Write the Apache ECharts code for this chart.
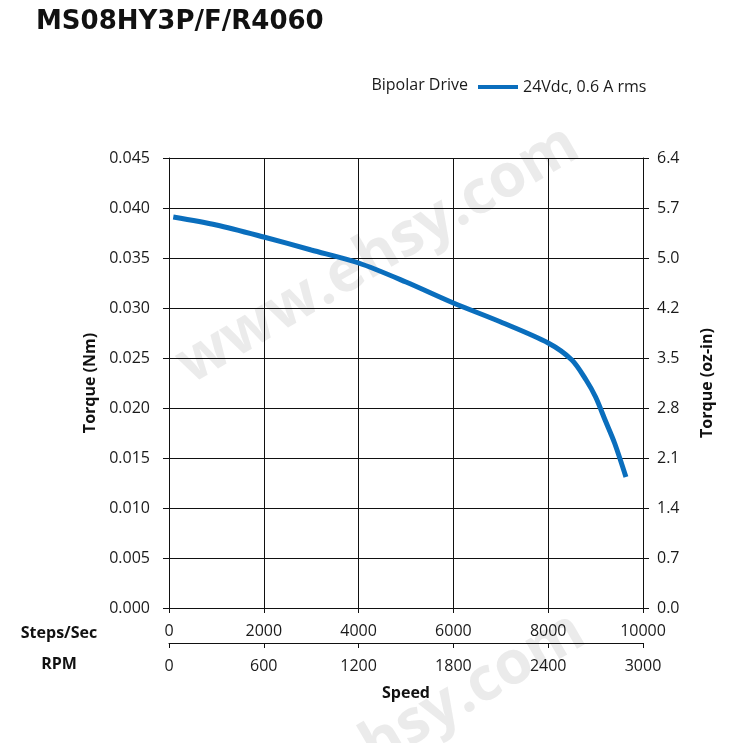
<!DOCTYPE html>
<html>
<head>
<meta charset="utf-8">
<script src="https://cdn.jsdelivr.net/npm/echarts@6/dist/echarts.min.js"></script>
<style>html,body{margin:0;padding:0;background:#fff;}#c{width:750px;height:743px;}</style>
</head>
<body>
<div id="c"></div>
<script>
// Data
const speedSteps = [90, 1000, 2000, 3000, 4000, 5000, 6000, 7000, 8000, 8500, 8800, 9000, 9200, 9400, 9640];
const torqueNm = [0.0391, 0.0383, 0.0371, 0.0358, 0.0345, 0.0326, 0.0305, 0.0286, 0.0265, 0.0248, 0.0228, 0.0211, 0.0188, 0.0165, 0.0131];
const rpmTicks = [0, 600, 1200, 1800, 2400, 3000];
const rightTickLabels = ['0.0','0.7','1.4','2.1','2.8','3.5','4.2','5.0','5.7','6.4'];
const seriesName = '24Vdc, 0.6 A rms';
const titleText = 'MS08HY3P/F/R4060';

const FONT = 'Open Sans';
const C = '#1a1a1a';
const chart = echarts.init(document.getElementById('c'));
const mkLine = () => ({show: true, lineStyle: {color: '#111', width: 1}});
const mkTick = (len) => ({show: true, length: len, lineStyle: {color: '#111', width: 1}});
const gridLine = () => ({show: true, lineStyle: {color: '#111', width: 1, type: 'solid'}});
const lbl = {color: C, fontFamily: FONT, fontSize: 16};
const plain = v => String(Math.round(v));

chart.setOption({
  backgroundColor: '#fff',
  animation: false,
  title: {text: titleText, left: 31, top: 4, textStyle: {fontFamily: 'DejaVu Sans', fontWeight: 'bold', fontSize: 26, color: '#111'}},
  legend: {
    data: [seriesName], left: 473, top: 74, icon: 'rect', itemWidth: 40, itemHeight: 4,
    textStyle: {fontFamily: FONT, fontSize: 16, color: C}
  },
  grid: [
    {left: 169, top: 158, width: 474, height: 450},
    {left: 169, top: 642, width: 474, height: 1}
  ],
  xAxis: [
    {type: 'value', gridIndex: 0, min: 0, max: 10000, interval: 2000,
     axisLine: mkLine(), axisTick: mkTick(5),
     splitLine: gridLine(), axisLabel: Object.assign({margin: 15, formatter: plain}, lbl)},
    {type: 'value', gridIndex: 1, min: 0, max: 3000, interval: 600,
     axisLine: mkLine(), axisTick: mkTick(5),
     splitLine: {show: false}, axisLabel: Object.assign({margin: 15, formatter: plain}, lbl),
     name: 'Speed', nameLocation: 'middle', nameGap: 42,
     nameTextStyle: {fontFamily: FONT, fontWeight: 'bold', fontSize: 16, color: '#111'}}
  ],
  yAxis: [
    {type: 'value', gridIndex: 0, min: 0, max: 0.045, interval: 0.005, position: 'left',
     axisLine: mkLine(), axisTick: mkTick(6),
     splitLine: gridLine(),
     axisLabel: Object.assign({margin: 19, formatter: v => v.toFixed(3)}, lbl),
     name: 'Torque (Nm)', nameLocation: 'middle', nameGap: 68, nameRotate: 90,
     nameTextStyle: {fontFamily: FONT, fontWeight: 'bold', fontSize: 16, color: '#111'}},
    {type: 'value', gridIndex: 0, min: 0, max: 0.045, interval: 0.005, position: 'right',
     axisLine: mkLine(), axisTick: mkTick(6),
     splitLine: {show: false},
     axisLabel: Object.assign({margin: 14, formatter: v => rightTickLabels[Math.round(v / 0.005)]}, lbl),
     name: 'Torque (oz-in)', nameLocation: 'middle', nameGap: 56, nameRotate: 90,
     nameTextStyle: {fontFamily: FONT, fontWeight: 'bold', fontSize: 16, color: '#111'}},
    {type: 'value', gridIndex: 1, min: 0, max: 1, show: false}
  ],
  graphic: [
    {type: 'text', x: 468, y: 85, style: {text: 'Bipolar Drive', font: '16px "Open Sans"', fill: C, align: 'right', verticalAlign: 'middle'}},
    {type: 'text', x: 59, y: 633, style: {text: 'Steps/Sec', font: 'bold 16px "Open Sans"', fill: '#111', align: 'center', verticalAlign: 'middle'}},
    {type: 'text', x: 59, y: 664, style: {text: 'RPM', font: 'bold 16px "Open Sans"', fill: '#111', align: 'center', verticalAlign: 'middle'}},
    {type: 'text', x: 378, y: 255, rotation: 0.53, silent: true,
     style: {text: 'www.ehsy.com', font: 'bold 60px "Open Sans"', fill: 'rgba(215,215,215,0.5)', align: 'center', verticalAlign: 'middle'}},
    {type: 'text', x: 384, y: 742, rotation: 0.53, silent: true,
     style: {text: 'www.ehsy.com', font: 'bold 60px "Open Sans"', fill: 'rgba(215,215,215,0.5)', align: 'center', verticalAlign: 'middle'}}
  ],
  series: [{
    name: seriesName, type: 'line', xAxisIndex: 0, yAxisIndex: 0,
    data: speedSteps.map((s, i) => [s, torqueNm[i]]),
    smooth: 0.3, showSymbol: false, symbol: 'none',
    lineStyle: {color: '#0a6ebd', width: 5},
    itemStyle: {color: '#0a6ebd'}
  }, {
    name: 'rpm', type: 'scatter', xAxisIndex: 1, yAxisIndex: 2,
    data: rpmTicks.map(r => [r, 0]), symbolSize: 0, silent: true,
    itemStyle: {opacity: 0}
  }]
});
</script>
</body>
</html>
